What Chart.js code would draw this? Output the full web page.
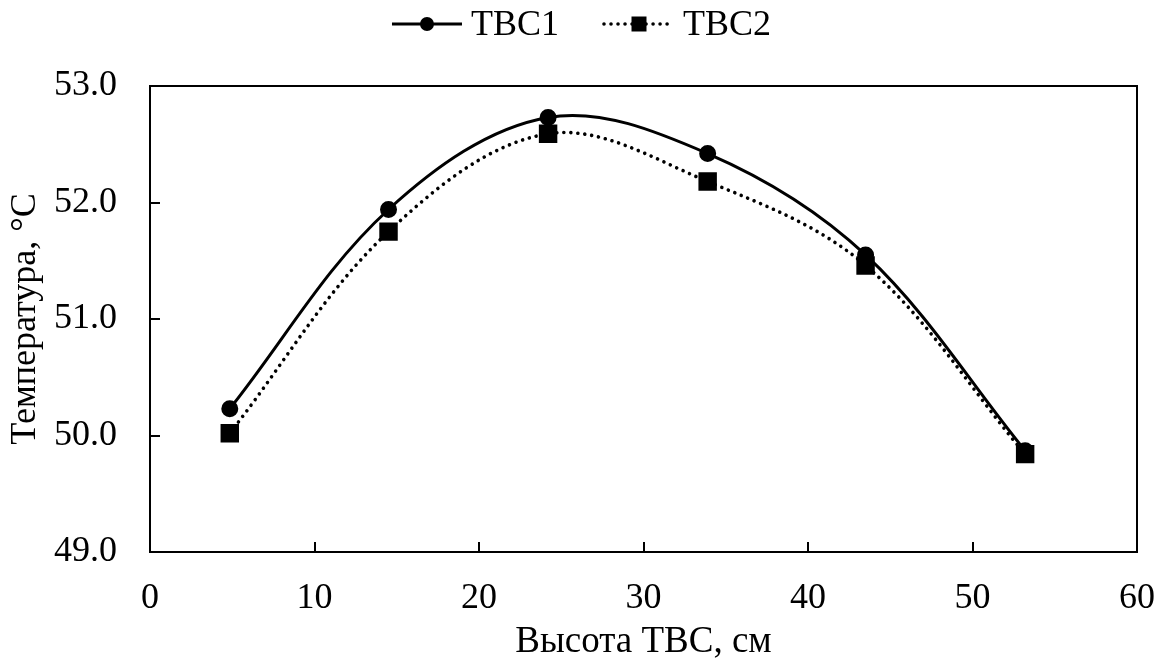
<!DOCTYPE html>
<html>
<head>
<meta charset="utf-8">
<script src="https://cdn.jsdelivr.net/npm/chart.js"></script>
<style>
  html, body { margin: 0; padding: 0; background: #fff; }
  #box { width: 1173px; height: 668px; }
</style>
</head>
<body>
<div id="box"><canvas id="graphe"></canvas></div>
<script>
// Données
var hauteurs = [4.85, 14.5, 24.2, 33.9, 43.5, 53.2];
var tbc1 = [50.23, 51.94, 52.73, 52.42, 51.55, 49.87];
var tbc2 = [50.02, 51.75, 52.59, 52.18, 51.46, 49.84];
var nomsSeries = ['ТВС1', 'ТВС2'];
var xTicks = [0, 10, 20, 30, 40, 50, 60];
var yTicks = [49, 50, 51, 52, 53];

var police = "'Liberation Serif', 'Times New Roman', serif";

function points(xs, ys) {
  return xs.map(function(x, i) {
    return { x: x, y: ys[i] };
  });
}

// ticks vers l'intérieur + cadre + légende
var cadre = {
  id: 'cadre',
  afterDraw: function(chart) {
    var ctx = chart.ctx;
    var a = chart.chartArea;
    var sx = chart.scales.x, sy = chart.scales.y;
    ctx.save();
    ctx.strokeStyle = '#000';
    ctx.lineWidth = 2;
    ctx.strokeRect(a.left, a.top, a.right - a.left, a.bottom - a.top);
    ctx.beginPath();
    yTicks.forEach(function(v) {
      var p = Math.round(sy.getPixelForValue(v));
      ctx.moveTo(a.left, p);
      ctx.lineTo(a.left + 10, p);
    });
    xTicks.forEach(function(v) {
      var p = Math.round(sx.getPixelForValue(v));
      ctx.moveTo(p, a.bottom);
      ctx.lineTo(p, a.bottom - 10);
    });
    ctx.stroke();

    // légende
    ctx.font = '36px ' + police;
    ctx.textBaseline = 'middle';
    ctx.fillStyle = '#000';
    var y = 24, ligne = 70, gap1 = 9, gap2 = 45;
    var largeurs = nomsSeries.map(function(n) { return ligne + gap1 + ctx.measureText(n).width; });
    var x = (chart.width - (largeurs[0] + largeurs[1] + gap2)) / 2 - 5;
    chart.data.datasets.forEach(function(ds, i) {
      ctx.beginPath();
      ctx.lineWidth = ds.borderWidth;
      ctx.lineCap = ds.borderCapStyle || 'butt';
      ctx.setLineDash(ds.borderDash || []);
      ctx.moveTo(x, y);
      ctx.lineTo(x + ligne, y);
      ctx.stroke();
      ctx.setLineDash([]);
      var cx = x + ligne / 2;
      ctx.beginPath();
      if (ds.pointStyle === 'rect') {
        ctx.rect(cx - 7.5, y - 7.5, 15, 15);
      } else {
        ctx.arc(cx, y, 7, 0, Math.PI * 2);
      }
      ctx.fill();
      ctx.fillText(nomsSeries[i], x + ligne + gap1, y + 2);
      x += largeurs[i] + gap2;
    });
    ctx.restore();
  }
};

var ctx1 = document.getElementById('graphe').getContext('2d');
var monGraphe = new Chart(ctx1, {
  type: 'line',
  data: {
    datasets: [{
      label: nomsSeries[0],
      data: points(hauteurs, tbc1),
      borderColor: '#000',
      backgroundColor: '#000',
      borderWidth: 3,
      pointStyle: 'circle',
      pointRadius: 7,
      pointHoverRadius: 7,
      tension: 0.35,
      fill: false
    }, {
      label: nomsSeries[1],
      data: points(hauteurs, tbc2),
      borderColor: '#000',
      backgroundColor: '#000',
      borderWidth: 3.6,
      borderDash: [0.01, 7],
      borderCapStyle: 'round',
      pointStyle: 'rect',
      pointRadius: 10.5,
      pointHoverRadius: 10.5,
      tension: 0.35,
      fill: false
    }]
  },
  options: {
    responsive: true,
    maintainAspectRatio: false,
    animation: false,
    layout: { padding: { top: 86, right: 36, left: 0, bottom: 0 } },
    plugins: {
      legend: { display: false },
      tooltip: { enabled: false }
    },
    scales: {
      x: {
        type: 'linear',
        min: 0,
        max: 60,
        afterFit: function(s) { s.height = 116; s.paddingLeft = 0; s.paddingRight = 0; },
        afterBuildTicks: function(s) { s.ticks = xTicks.map(function(v) { return { value: v }; }); },
        grid: { display: false, drawTicks: false },
        border: { display: false },
        ticks: { color: '#000', padding: 25, font: { family: police, size: 36 } },
        title: {
          display: true,
          text: 'Высота ТВС, см',
          color: '#000',
          padding: { top: 0, bottom: 4 },
          font: { family: police, size: 37 }
        }
      },
      y: {
        min: 49,
        max: 53,
        afterFit: function(s) { s.width = 150; s.paddingTop = 0; s.paddingBottom = 0; },
        afterBuildTicks: function(s) { s.ticks = yTicks.map(function(v) { return { value: v }; }); },
        grid: { display: false, drawTicks: false },
        border: { display: false },
        ticks: {
          color: '#000',
          padding: 33,
          font: { family: police, size: 36 },
          callback: function(v) { return v.toFixed(1); }
        },
        title: {
          display: true,
          text: 'Температура, °С',
          color: '#000',
          padding: { top: 4, bottom: 0 },
          font: { family: police, size: 36 }
        }
      }
    }
  },
  plugins: [cadre]
});
</script>
</body>
</html>
